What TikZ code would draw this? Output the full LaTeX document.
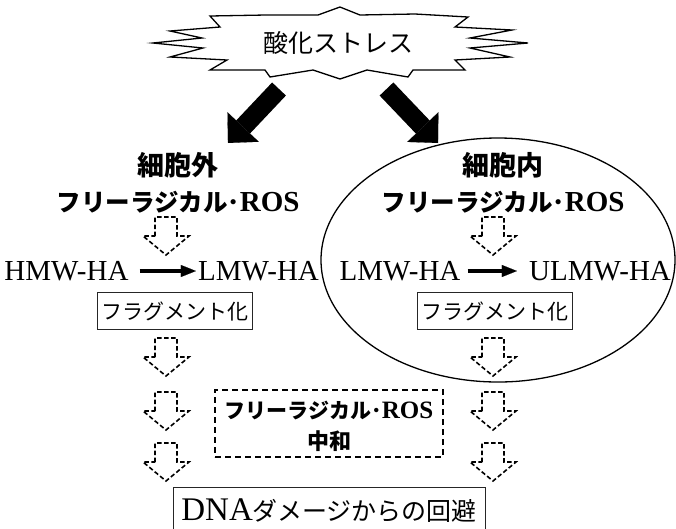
\documentclass[tikz,border=0pt]{standalone}
\usepackage{fontspec}
\setmainfont{Liberation Serif}
\newfontfamily\jp{Noto Sans CJK JP}
\usetikzlibrary{arrows.meta}
\newcommand\FRtext[2]{{\jp\bfseries\fontsize{#1}{#1}\selectfont フリーラジカル･}{\bfseries\fontsize{#2}{#2}\selectfont ROS}}
\begin{document}
\begin{tikzpicture}[x=1pt,y=-1pt,
  darrowline/.style={draw=black, line width=1.6pt, dash pattern=on 4.5pt off 2.5pt, line join=miter},
  bigarrow/.style={line width=19pt, -{Triangle[length=22pt,width=43pt,line width=0.1pt]}},
  thinarrow/.style={line width=3.5pt, -{Triangle[length=15pt,width=12pt,line width=0.1pt]}},
  fragbox/.style={draw=black!85, line width=0.9pt, minimum width=155pt, minimum height=37pt, inner sep=0pt, font=\jp\fontsize{21}{24}\selectfont},
  hatext/.style={inner sep=0pt, font=\fontsize{29}{32}\selectfont},
  darrow/.pic={\path[darrowline] (-11,19) -- (-11,0) -- (11,0) -- (11,19) -- (23,19) -- (0,38) -- (-23,19) -- cycle;}
]
\useasboundingbox (0,0) rectangle (676,528);
% starburst
\draw[line width=1.3pt, fill=white, line join=miter]
 (210,16) -- (266,15) -- (318,15) -- (340,7) -- (360,15) -- (415,14) -- (468,17)
 -- (455,27) -- (512,30) -- (470,38) -- (528,43) -- (470,48) -- (510,57) -- (455,60) -- (465,70)
 -- (413,70) -- (408,77) -- (367,70) -- (340,79) -- (313,70) -- (270,77) -- (265,70) -- (210,70)
 -- (227,60) -- (170,57) -- (203,48) -- (153,43) -- (202,38) -- (170,31) -- (220,27) -- cycle;
\node[inner sep=0pt, font=\jp\fontsize{25}{28}\selectfont] (stress) at (338,43) {酸化ストレス};
% big arrows
\coordinate (bls) at (279,89);
\coordinate (ble) at (228,143);
\coordinate (brs) at (386.5,89);
\coordinate (bre) at (438,143);
\draw[bigarrow] (bls) -- (ble);
\draw[bigarrow] (brs) -- (bre);
% ellipse
\draw[line width=1.3pt] (498,260) ellipse [x radius=177, y radius=122];
% labels
\node[inner sep=0pt, font=\jp\bfseries\fontsize{27}{30}\selectfont] (extA) at (178,165) {細胞外};
\node[inner sep=0pt] (extB) at (178,202) {\FRtext{24.5}{29}};
\node[inner sep=0pt, font=\jp\bfseries\fontsize{27}{30}\selectfont] (intA) at (503,165) {細胞内};
\node[inner sep=0pt] (intB) at (503,202) {\FRtext{24.5}{29}};
% dashed arrows
\pic at (166,217) {darrow};
\pic at (166,338) {darrow};
\pic at (166,392) {darrow};
\pic at (166,443) {darrow};
\pic at (493,217) {darrow};
\pic at (493,338) {darrow};
\pic at (493,392) {darrow};
\pic at (493,443) {darrow};
% HA rows
\node[hatext] (hmw) at (66.5,271) {HMW-HA};
\node[hatext] (lmwA) at (258.5,271) {LMW-HA};
\node[hatext] (lmwB) at (400,271) {LMW-HA};
\node[hatext] (ulmw) at (600,271) {ULMW-HA};
\draw[thinarrow, shorten <=11pt, shorten >=2pt] (hmw.east) -- (lmwA.west);
\draw[thinarrow, shorten <=7pt, shorten >=12pt] (lmwB.east) -- (ulmw.west);
% fragmentation boxes
\node[fragbox] (fragA) at (174.5,311) {フラグメント化};
\node[fragbox] (fragB) at (494.5,311) {フラグメント化};
% neutralization box
\node[draw=black, line width=1.3pt, dash pattern=on 6pt off 4pt, minimum width=228pt, minimum height=67pt, inner sep=0pt] (neut) at (329,423.5) {};
\node[inner sep=0pt] (neutA) at (329,410) {\FRtext{21}{25}};
\node[inner sep=0pt, font=\jp\bfseries\fontsize{22}{25}\selectfont] (neutB) at (329,441) {中和};
% final box
\node[draw=black!85, line width=0.9pt, minimum width=312pt, minimum height=48pt, inner sep=0pt] (dnabox) at (329,511) {};
\node[inner sep=0pt] (dna) at (329,511) {{\fontsize{33}{36}\selectfont DNA}{\jp\fontsize{25}{30}\selectfont ダメージからの回避}};
\end{tikzpicture}
\end{document}
